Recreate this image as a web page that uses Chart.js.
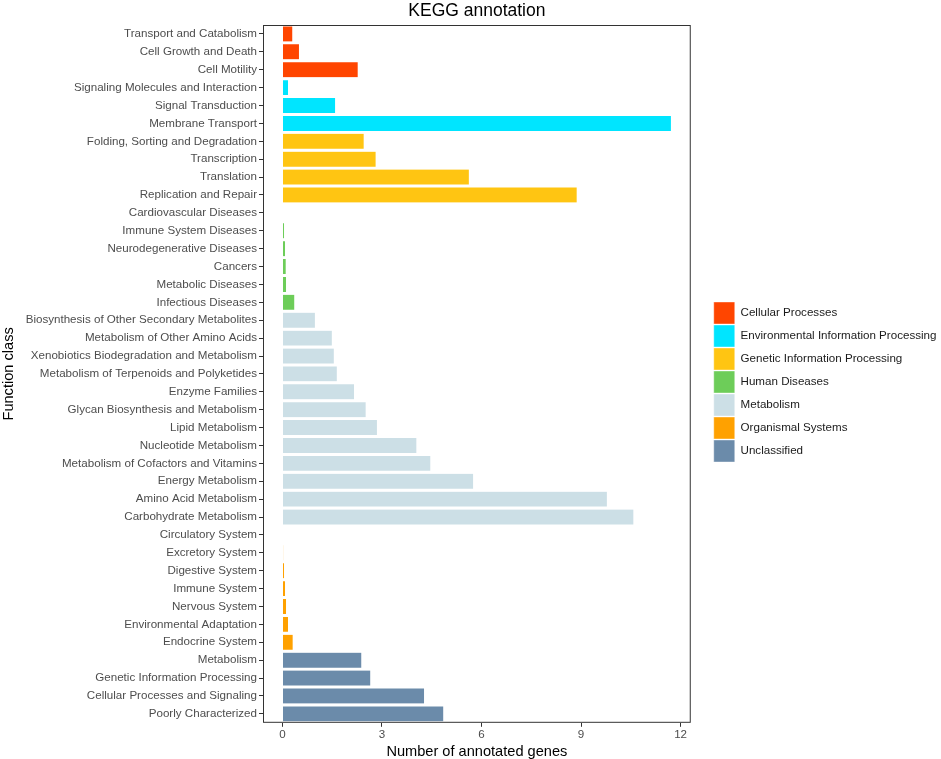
<!DOCTYPE html>
<html lang="en">
<head>
  <meta charset="UTF-8" />
  <title>KEGG annotation</title>
  <script src="https://cdn.jsdelivr.net/npm/chart.js"></script>
  <style>
    html, body {
      margin: 0;
      padding: 0;
      background: #ffffff;
    }

    #wrap {
      width: 941px;
      height: 759px;
    }

    canvas {
      display: block;
    }
  </style>
</head>
<body>

  <div id="wrap"><canvas id="keggChart"></canvas></div>

  <script>
    // function classes, top to bottom as in the figure
    const categories = [
      "Transport and Catabolism", "Cell Growth and Death", "Cell Motility",
      "Signaling Molecules and Interaction", "Signal Transduction", "Membrane Transport",
      "Folding, Sorting and Degradation", "Transcription", "Translation", "Replication and Repair",
      "Cardiovascular Diseases", "Immune System Diseases", "Neurodegenerative Diseases",
      "Cancers", "Metabolic Diseases", "Infectious Diseases",
      "Biosynthesis of Other Secondary Metabolites", "Metabolism of Other Amino Acids",
      "Xenobiotics Biodegradation and Metabolism", "Metabolism of Terpenoids and Polyketides",
      "Enzyme Families", "Glycan Biosynthesis and Metabolism", "Lipid Metabolism",
      "Nucleotide Metabolism", "Metabolism of Cofactors and Vitamins", "Energy Metabolism",
      "Amino Acid Metabolism", "Carbohydrate Metabolism",
      "Circulatory System", "Excretory System", "Digestive System", "Immune System",
      "Nervous System", "Environmental Adaptation", "Endocrine System",
      "Metabolism", "Genetic Information Processing", "Cellular Processes and Signaling",
      "Poorly Characterized"
    ];

    const geneCounts = [
      0.31, 0.51, 2.28,
      0.18, 1.60, 11.72,
      2.46, 2.82, 5.63, 8.88,
      0, 0.06, 0.09, 0.11, 0.12, 0.37,
      0.99, 1.50, 1.56, 1.65, 2.17, 2.52, 2.86, 4.05, 4.47, 5.76, 9.79, 10.59,
      0, 0.03, 0.06, 0.09, 0.12, 0.18, 0.32,
      2.39, 2.66, 4.28, 4.86
    ];

    // index into groupNames for each category
    const groupOf = [
      0, 0, 0,
      1, 1, 1,
      2, 2, 2, 2,
      3, 3, 3, 3, 3, 3,
      4, 4, 4, 4, 4, 4, 4, 4, 4, 4, 4, 4,
      5, 5, 5, 5, 5, 5, 5,
      6, 6, 6, 6
    ];

    const groupNames = [
      "Cellular Processes", "Environmental Information Processing",
      "Genetic Information Processing", "Human Diseases", "Metabolism",
      "Organismal Systems", "Unclassified"
    ];

    const groupColors = ["#FF4500", "#00E5FF", "#FFC512", "#6DCD59", "#CCDFE6", "#FFA100", "#6B8BAA"];

    const xTicks = [0, 3, 6, 9, 12];

    const FONT = "'Liberation Sans', Arial, sans-serif";

    // one dataset per group so the legend comes from the library
    const datasets = groupNames.map((name, g) => ({
      label: name,
      data: geneCounts.map((v, i) => groupOf[i] === g ? v : null),
      backgroundColor: groupColors[g],
      borderColor: "#ffffff",
      borderWidth: 0.4,
      barPercentage: 0.88,
      categoryPercentage: 1
    }));

    // grey frame round the plot panel
    const panelBorder = {
      id: "panelBorder",
      afterDatasetsDraw(chart) {
        const { ctx, chartArea: a } = chart;
        ctx.save();
        ctx.strokeStyle = "#333333";
        ctx.lineWidth = 1;
        ctx.strokeRect(a.left + 0.5, a.top + 0.5, a.width - 1, a.height - 1);
        ctx.restore();
      }
    };

    // push the legend away from the panel a bit
    const legendGap = {
      id: "legendGap",
      afterLayout(chart) {
        if (chart.legend) {
          chart.legend.left += 22;
          chart.legend.right += 22;
          chart.legend.top += 2;
          chart.legend.bottom += 2;
        }
      }
    };

    new Chart(document.getElementById("keggChart"), {
      type: "bar",
      data: { labels: categories, datasets },
      plugins: [panelBorder, legendGap],
      options: {
        indexAxis: "y",
        responsive: true,
        maintainAspectRatio: false,
        animation: false,
        layout: { padding: { top: 1, bottom: 0, left: 0, right: 20 } },
        plugins: {
          title: {
            display: true,
            text: "KEGG annotation",
            fullSize: false,
            color: "#000000",
            font: { family: FONT, size: 17.5, weight: "normal" },
            padding: { top: 0, bottom: 3 }
          },
          legend: {
            position: "right",
            align: "center",
            labels: {
              boxWidth: 21,
              boxHeight: 22,
              padding: 1,
              color: "#1a1a1a",
              font: { family: FONT, size: 11.6 }
            }
          },
          tooltip: { enabled: false }
        },
        scales: {
          x: {
            type: "linear",
            stacked: true,
            min: -0.586,
            max: 12.306,
            afterBuildTicks: scale => {
              scale.ticks = xTicks.map(v => ({ value: v }));
            },
            ticks: {
              color: "#4d4d4d",
              padding: 2,
              font: { family: FONT, size: 11.6, lineHeight: 1 }
            },
            grid: { drawOnChartArea: false, tickLength: 4, color: "#333333" },
            border: { display: false },
            title: {
              display: true,
              text: "Number of annotated genes",
              color: "#000000",
              font: { family: FONT, size: 14.6, lineHeight: 1 },
              padding: { top: 2, bottom: 0 }
            }
          },
          y: {
            type: "category",
            stacked: true,
            offset: true,
            afterFit: scale => {
              scale.width = 263;
            },
            ticks: {
              autoSkip: false,
              color: "#4d4d4d",
              padding: 2,
              font: { family: FONT, size: 11.6 }
            },
            grid: { offset: false, drawOnChartArea: false, tickLength: 4, color: "#333333" },
            border: { display: false },
            title: {
              display: true,
              text: "Function class",
              color: "#000000",
              font: { family: FONT, size: 14.6 },
              padding: { top: 0, bottom: 2 }
            }
          }
        }
      }
    });
  </script>

</body>
</html>
